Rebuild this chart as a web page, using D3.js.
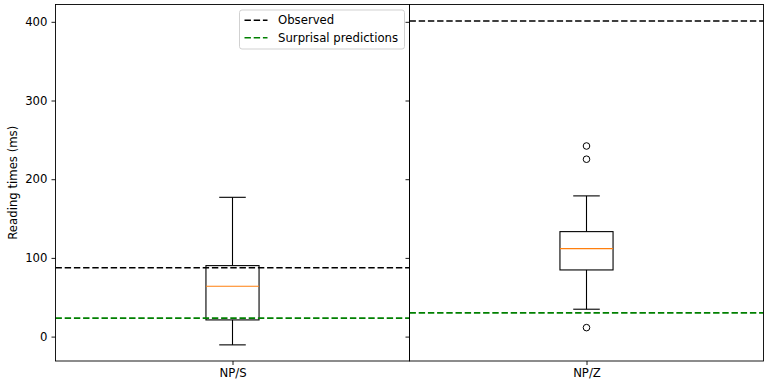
<!DOCTYPE html>
<html>
<head>
<meta charset="utf-8">
<script src="https://cdn.jsdelivr.net/npm/d3@7/dist/d3.min.js"></script>
<style>
  html, body { margin: 0; padding: 0; background: #fff; }
  svg { display: block; font-family: "DejaVu Sans", sans-serif; }
</style>
</head>
<body>
<svg id="chart" width="766" height="382"></svg>
<script>
// ---- data ----
const categories   = ["NP/S", "NP/Z"];
const whiskerLow   = [-10.5, 34.8];
const q1           = [21.2, 84.7];
const medians      = [64.0, 111.8];
const q3           = [90.2, 133.4];
const whiskerHigh  = [177.0, 178.8];
const outliers     = [[], [242.2, 225.4, 11.4]];
const observed     = [87.5, 401];
const surprisal    = [23.5, 30.1];
const yTicks       = [0, 100, 200, 300, 400];
const legendLabels = ["Observed", "Surprisal predictions"];

// ---- layout ----
const plotLeft = 55.5, plotRight = 763.5, plotTop = 4.5, plotBottom = 361;
const fontSize = 11.7;
const svg = d3.select("#chart");

const panel = d3.scaleBand().domain(categories).range([plotLeft, plotRight]).paddingInner(0).paddingOuter(0);
const y = d3.scaleLinear().domain([-31, 422]).range([plotBottom, plotTop]);

const lineColors = ["#000000", "#008000"];
const dash = "6.4,2.8";

categories.forEach((cat, i) => {
  const x0 = panel(cat), pw = panel.bandwidth();
  const x = d3.scaleLinear().domain([0.5, 1.5]).range([x0, x0 + pw]);
  const g = svg.append("g");

  const bw = 0.15, cw = 0.075;
  const stroke = "#000", lw = 1.1;
  // whiskers
  g.append("line").attr("x1", x(1)).attr("x2", x(1)).attr("y1", y(q1[i])).attr("y2", y(whiskerLow[i]))
    .attr("stroke", stroke).attr("stroke-width", lw);
  g.append("line").attr("x1", x(1)).attr("x2", x(1)).attr("y1", y(q3[i])).attr("y2", y(whiskerHigh[i]))
    .attr("stroke", stroke).attr("stroke-width", lw);
  // caps
  [whiskerLow[i], whiskerHigh[i]].forEach(v => {
    g.append("line").attr("x1", x(1 - cw / 2)).attr("x2", x(1 + cw / 2)).attr("y1", y(v)).attr("y2", y(v))
      .attr("stroke", stroke).attr("stroke-width", lw);
  });
  // box rect
  g.append("rect").attr("x", x(1 - bw / 2)).attr("width", x(1 + bw / 2) - x(1 - bw / 2))
    .attr("y", y(q3[i])).attr("height", y(q1[i]) - y(q3[i]))
    .attr("fill", "none").attr("stroke", stroke).attr("stroke-width", lw);
  // median
  g.append("line").attr("x1", x(1 - bw / 2)).attr("x2", x(1 + bw / 2)).attr("y1", y(medians[i])).attr("y2", y(medians[i]))
    .attr("stroke", "#ff7f0e").attr("stroke-width", lw);
  // outliers
  g.selectAll("circle.out").data(outliers[i]).enter().append("circle")
    .attr("cx", x(1)).attr("cy", d => y(d)).attr("r", 3.3)
    .attr("fill", "none").attr("stroke", "#000").attr("stroke-width", 1);

  // reference lines
  [observed[i], surprisal[i]].forEach((v, k) => {
    g.append("line").attr("x1", x0).attr("x2", x0 + pw).attr("y1", y(v)).attr("y2", y(v))
      .attr("stroke", lineColors[k]).attr("stroke-width", 1.6).attr("stroke-dasharray", dash);
  });

  // y axis (labels only on first panel)
  const yAxis = d3.axisLeft(y).tickValues(yTicks).tickSize(4).tickPadding(4)
    .tickFormat(i === 0 ? d3.format("d") : () => "");
  const ya = svg.append("g").attr("transform", `translate(${x0},0)`).call(yAxis);
  ya.select(".domain").remove();
  ya.selectAll("line").attr("stroke", "#000").attr("stroke-width", 0.9);
  ya.selectAll("text").attr("font-size", fontSize).attr("fill", "#000").attr("font-family", "DejaVu Sans");

  // x axis
  const xAxis = d3.axisBottom(x).tickValues([1]).tickSize(4).tickPadding(4).tickFormat(() => cat);
  const xa = svg.append("g").attr("transform", `translate(0,${plotBottom})`).call(xAxis);
  xa.select(".domain").remove();
  xa.selectAll("line").attr("stroke", "#000").attr("stroke-width", 0.9);
  xa.selectAll("text").attr("font-size", fontSize).attr("fill", "#000").attr("font-family", "DejaVu Sans");

  // frame
  svg.append("rect").attr("x", x0).attr("y", plotTop).attr("width", pw).attr("height", plotBottom - plotTop)
    .attr("fill", "none").attr("stroke", "#000").attr("stroke-width", 0.9);
});

// y label
svg.append("text")
  .attr("transform", `translate(17,${(plotTop + plotBottom) / 2}) rotate(-90)`)
  .attr("text-anchor", "middle")
  .attr("font-size", fontSize)
  .text("Reading times (ms)");

// legend
const lg = svg.append("g").attr("transform", "translate(239.5,10)");
lg.append("rect").attr("width", 165).attr("height", 39).attr("rx", 2.5)
  .attr("fill", "#fff").attr("fill-opacity", 0.8).attr("stroke", "#cccccc").attr("stroke-width", 0.9);
legendLabels.forEach((lab, k) => {
  const ly = 10.2 + k * 17.6;
  lg.append("line").attr("x1", 5).attr("x2", 28).attr("y1", ly).attr("y2", ly)
    .attr("stroke", lineColors[k]).attr("stroke-width", 1.6).attr("stroke-dasharray", dash);
  lg.append("text").attr("x", 38.5).attr("y", ly).attr("dy", "0.36em")
    .attr("font-size", fontSize).text(lab);
});
</script>
</body>
</html>
